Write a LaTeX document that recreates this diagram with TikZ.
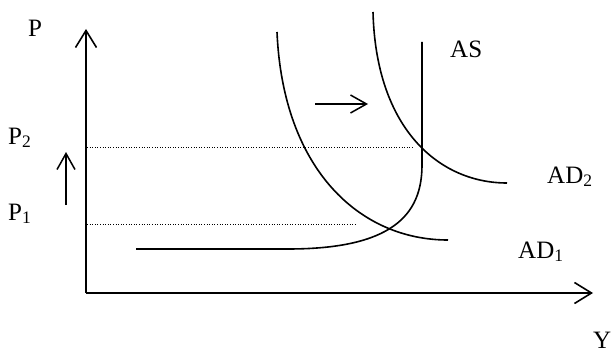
\documentclass[tikz,border=0pt]{standalone}
\usepackage{fontspec}
\setmainfont{Liberation Serif}
\usetikzlibrary{arrows.meta}
\begin{document}
\begin{tikzpicture}[x=1pt,y=-1pt,
  curve/.style={line width=1.6pt},
  axis/.style={line width=1.6pt,-{Straight Barb[length=17pt,width=21pt,line width=1.6pt]}},
  shiftarrow/.style={line width=1.5pt,-{Straight Barb[length=16pt,width=18pt,line width=1.5pt]}},
  guide/.style={line width=1pt,dash pattern=on 1pt off 1.6pt},
  lbl/.style={anchor=base west,inner sep=0pt,font=\fontsize{25}{28}\selectfont}]
\useasboundingbox (0,0) rectangle (611,353);
% axes
\coordinate (O) at (86,293);
\coordinate (Ytop) at (86,29);
\coordinate (Xend) at (593,293);
\draw[axis] (O) -- (Ytop);
\draw[axis] (O) -- (Xend);
% labels
\node[lbl] (lP) at (28,37) {P};
\node[lbl] (lY) at (593,348) {Y};
\node[lbl] (lP2) at (8,144) {P\textsubscript{2}};
\node[lbl] (lP1) at (8,220) {P\textsubscript{1}};
\node[lbl] (lAS) at (450,58) {AS};
\node[lbl] (lAD2) at (547,183) {AD\textsubscript{2}};
\node[lbl] (lAD1) at (518,258) {AD\textsubscript{1}};
% dotted guides
\coordinate (g2a) at (87,147);
\coordinate (g2b) at (413,147);
\coordinate (g1a) at (87,224);
\coordinate (g1b) at (356,224);
\draw[guide] (g2a) -- (g2b);
\draw[guide] (g1a) -- (g1b);
% AS curve
\draw[curve] (136,249) -- (288,249) .. controls (392,249) and (422,215) .. (422,165) -- (422,42);
% AD1
\draw[curve] (277,32) .. controls (283,170) and (360,240) .. (448,240);
% AD2
\draw[curve] (373,12) .. controls (376,130) and (440,183) .. (507,183);
% shift arrows
\coordinate (ua) at (66,205);
\coordinate (ub) at (66,152);
\draw[shiftarrow] (ua) -- (ub);
\coordinate (ra) at (315,104);
\coordinate (rb) at (368,104);
\draw[shiftarrow] (ra) -- (rb);
\end{tikzpicture}
\end{document}
